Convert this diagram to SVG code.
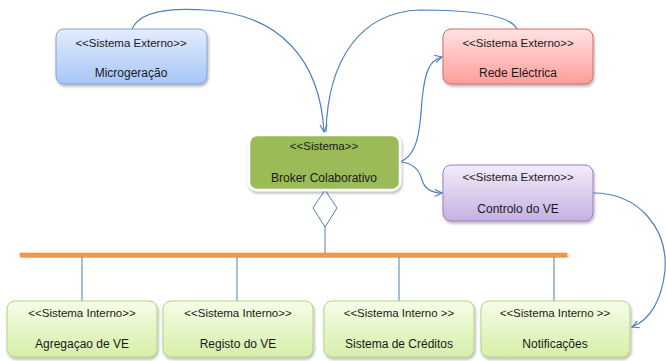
<svg xmlns="http://www.w3.org/2000/svg" width="666" height="361" viewBox="0 0 666 361">
<style>
text{font-family:"Liberation Sans",Arial,sans-serif;fill:#1a1a1a;text-anchor:middle}
.h{font-size:11.5px}
.n{font-size:12px}
.c{fill:none;stroke:#4f81bd;stroke-width:1.2}
.v{stroke:#4a7ebb;stroke-width:1}
</style>
<defs>
<filter id="sh" x="-10%" y="-10%" width="125%" height="135%">
<feDropShadow dx="1" dy="2" stdDeviation="1.5" flood-color="#000" flood-opacity="0.3"/>
</filter>
<linearGradient id="gB" x1="0" y1="0" x2="0" y2="1"><stop offset="0" stop-color="#e3edff"/><stop offset="1" stop-color="#a6c6f6"/></linearGradient>
<linearGradient id="gR" x1="0" y1="0" x2="0" y2="1"><stop offset="0" stop-color="#ffe3e3"/><stop offset="1" stop-color="#ff9d9b"/></linearGradient>
<linearGradient id="gP" x1="0" y1="0" x2="0" y2="1"><stop offset="0" stop-color="#f3edfa"/><stop offset="1" stop-color="#c6b0e2"/></linearGradient>
<linearGradient id="gG" x1="0" y1="0" x2="0" y2="1"><stop offset="0" stop-color="#f6fde8"/><stop offset="1" stop-color="#d6efa8"/></linearGradient>
<marker id="ar" viewBox="0 0 10 10" refX="9" refY="5" markerWidth="9" markerHeight="9" markerUnits="userSpaceOnUse" orient="auto">
<path d="M1,1 L9,5 L1,9" fill="none" stroke="#4f81bd" stroke-width="1.3"/>
</marker>
</defs>

<g id="connectors">
<path class="c" d="M132,29 C140,10 175,8 205,10 C280,14 320,60 324,132" marker-end="url(#ar)"/>
<path class="c" d="M517,29 C510,15 470,10 420,10 C360,12 328,60 326,132"/>
<path class="c" d="M400,162 C418,155 420,130 422,100 C425,70 430,60 442,57" marker-end="url(#ar)"/>
<path class="c" d="M400,162 C415,163 420,172 422,180 C425,190 433,193 442,193" marker-end="url(#ar)"/>
<path class="c" d="M593,193 C640,193 668,230 665,270 C662,300 650,320 632,327" marker-end="url(#ar)"/>
<line class="v" x1="325" y1="227" x2="325" y2="253"/>
<line class="v" x1="82" y1="257" x2="82" y2="301"/>
<line class="v" x1="237" y1="257" x2="237" y2="301"/>
<line class="v" x1="399" y1="257" x2="399" y2="301"/>
<line class="v" x1="554" y1="257" x2="554" y2="301"/>
<polygon points="325,190 337,208 325,227 313,208" fill="#fff" stroke="#4f81bd" stroke-width="1"/>
<rect x="20" y="253" width="547" height="4" fill="#f79646" stroke="#e8873a" stroke-width="0.5" filter="url(#sh)"/>
</g>

<g id="microgeracao">
<rect x="56" y="29" width="151" height="55" rx="8" fill="url(#gB)" stroke="#7ea3d8" filter="url(#sh)"/>
<text class="h" x="131" y="47">&lt;&lt;Sistema Externo&gt;&gt;</text>
<text class="n" x="131" y="77">Microgeração</text>
</g>

<g id="rede">
<rect x="443" y="29" width="150" height="55" rx="8" fill="url(#gR)" stroke="#d46a6a" filter="url(#sh)"/>
<text class="h" x="518" y="47">&lt;&lt;Sistema Externo&gt;&gt;</text>
<text class="n" x="518" y="77">Rede Eléctrica</text>
</g>

<g id="broker">
<rect x="249" y="135" width="151" height="55" rx="8" fill="#9bbb59" stroke="#fff" stroke-width="2.5" filter="url(#sh)"/>
<text class="h" x="324" y="150">&lt;&lt;Sistema&gt;&gt;</text>
<text class="n" x="324" y="182">Broker Colaborativo</text>
</g>

<g id="controlo">
<rect x="443" y="165" width="150" height="56" rx="8" fill="url(#gP)" stroke="#9b7fc0" filter="url(#sh)"/>
<text class="h" x="518" y="181">&lt;&lt;Sistema Externo&gt;&gt;</text>
<text class="n" x="518" y="213">Controlo do VE</text>
</g>

<g id="agregacao">
<rect x="7" y="301" width="150" height="56" rx="8" fill="url(#gG)" stroke="#b5d483" filter="url(#sh)"/>
<text class="h" x="82" y="317">&lt;&lt;Sistema Interno&gt;&gt;</text>
<text class="n" x="82" y="348">Agregaçao de VE</text>
</g>

<g id="registo">
<rect x="163" y="301" width="150" height="56" rx="8" fill="url(#gG)" stroke="#b5d483" filter="url(#sh)"/>
<text class="h" x="238" y="317">&lt;&lt;Sistema Interno&gt;&gt;</text>
<text class="n" x="238" y="348">Registo do VE</text>
</g>

<g id="creditos">
<rect x="324" y="301" width="150" height="56" rx="8" fill="url(#gG)" stroke="#b5d483" filter="url(#sh)"/>
<text class="h" x="399" y="317">&lt;&lt;Sistema Interno &gt;&gt;</text>
<text class="n" x="399" y="348">Sistema de Créditos</text>
</g>

<g id="notificacoes">
<rect x="481" y="301" width="149" height="56" rx="8" fill="url(#gG)" stroke="#b5d483" filter="url(#sh)"/>
<text class="h" x="555" y="317">&lt;&lt;Sistema Interno &gt;&gt;</text>
<text class="n" x="555" y="348">Notificações</text>
</g>
</svg>
